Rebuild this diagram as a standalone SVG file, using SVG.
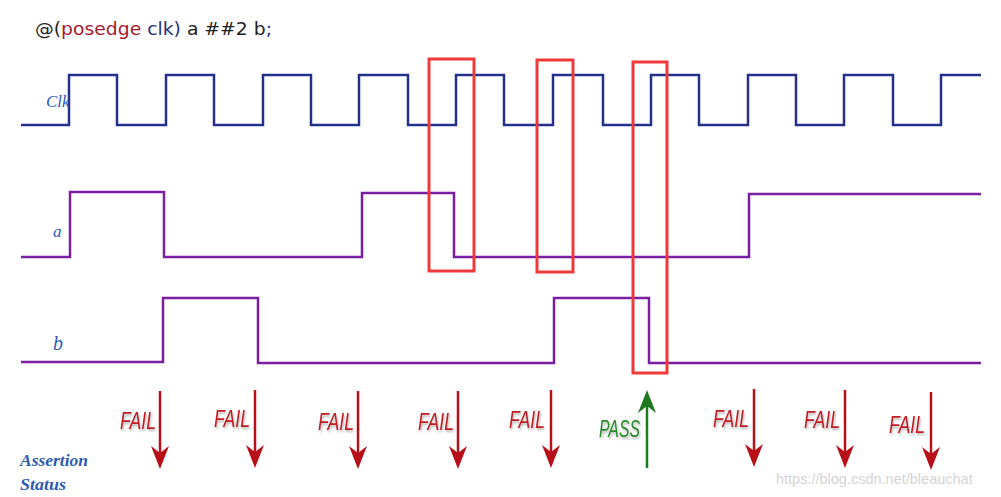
<svg xmlns="http://www.w3.org/2000/svg" width="1001" height="497" viewBox="0 0 1001 497">
<defs>
<style>
.wave{fill:none;stroke-width:2.5;stroke-linejoin:miter}
.clk{stroke:#25308a}
.sig{stroke:#7b1fa2}
.box{fill:none;stroke:#f03a3a;stroke-width:3}
.lbl{font-family:"Liberation Serif",serif;font-style:italic;fill:#2d5bb5}
.fail{font-family:"Liberation Sans",sans-serif;font-style:italic;font-size:24px;fill:#c01c24}
.pass{font-family:"Liberation Sans",sans-serif;font-style:italic;font-size:24px;fill:#2a8a2a}
.dn{stroke:#b81018;stroke-width:2.5}
.up{stroke:#1e7a1e;stroke-width:2.5}
</style>
<filter id="sh" x="-20%" y="-20%" width="150%" height="160%"><feDropShadow dx="1" dy="2" stdDeviation="1.2" flood-color="#000" flood-opacity="0.3"/></filter>
<g id="darr"><line x1="0" y1="-78" x2="0" y2="-14" class="dn"/><polygon points="0,0 -9,-23 0,-16 9,-23" fill="#b81018"/></g>
</defs>
<rect width="1001" height="497" fill="#fff"/>
<text x="35" y="35" font-family="DejaVu Sans,sans-serif" font-size="18" fill="#222" textLength="237" lengthAdjust="spacingAndGlyphs"><tspan>@(</tspan><tspan fill="#a3202c">posedge</tspan><tspan fill="#2a2f80"> clk)</tspan><tspan> a ##2 b</tspan><tspan fill="#2a2f80">;</tspan></text>
<g id="clk">
<path class="wave clk" d="M21,125H69V75H117V125H166V75H214V125H263V75H311V125H359V75H408V125H456V75H504V125H553V75H603V125H651V75H699V125H748V75H796V125H844V75H893V125H941V75H981"/>
<text class="lbl" x="46" y="107" font-size="17">Clk</text>
</g>
<g id="a">
<path class="wave sig" d="M21,257H70V192H164V257H362V193H454V257H749V194H981"/>
<text class="lbl" x="53" y="237" font-size="17">a</text>
</g>
<g id="b">
<path class="wave sig" d="M21,362H163V298H258V363H554V298H649V363H981"/>
<text class="lbl" x="53" y="350" font-size="20">b</text>
</g>
<g id="boxes">
<rect class="box" x="429" y="59" width="45" height="212"/>
<rect class="box" x="537" y="60" width="36" height="212"/>
<rect class="box" x="633" y="62" width="34" height="311"/>
</g>
<g id="status">
<text class="lbl" x="20" y="466" font-size="16" font-weight="bold" textLength="68" lengthAdjust="spacingAndGlyphs">Assertion</text>
<text class="lbl" x="20" y="490" font-size="16" font-weight="bold" textLength="46" lengthAdjust="spacingAndGlyphs">Status</text>
</g>
<g id="connectors">
<use href="#darr" x="160" y="469"/>
<use href="#darr" x="255" y="468"/>
<use href="#darr" x="358" y="469"/>
<use href="#darr" x="458" y="469"/>
<use href="#darr" x="551" y="468"/>
<use href="#darr" x="754" y="467"/>
<use href="#darr" x="845" y="468"/>
<use href="#darr" x="931" y="470"/>
<line x1="647" y1="468" x2="647" y2="405" class="up"/>
<polygon points="647,390 638,413 647,406 656,413" fill="#1e7a1e"/>
</g>
<g id="labels" filter="url(#sh)">
<text class="fail" x="120" y="429" textLength="36" lengthAdjust="spacingAndGlyphs">FAIL</text>
<text class="fail" x="214" y="427" textLength="36" lengthAdjust="spacingAndGlyphs">FAIL</text>
<text class="fail" x="318" y="430" textLength="36" lengthAdjust="spacingAndGlyphs">FAIL</text>
<text class="fail" x="418" y="430" textLength="36" lengthAdjust="spacingAndGlyphs">FAIL</text>
<text class="fail" x="509" y="428" textLength="36" lengthAdjust="spacingAndGlyphs">FAIL</text>
<text class="pass" x="599" y="437" textLength="41" lengthAdjust="spacingAndGlyphs">PASS</text>
<text class="fail" x="713" y="427" textLength="36" lengthAdjust="spacingAndGlyphs">FAIL</text>
<text class="fail" x="804" y="428" textLength="36" lengthAdjust="spacingAndGlyphs">FAIL</text>
<text class="fail" x="889" y="433" textLength="36" lengthAdjust="spacingAndGlyphs">FAIL</text>
</g>
<text x="776" y="484" font-family="Liberation Sans,sans-serif" font-size="14.5" fill="#d4d4d4">https://blog.csdn.net/bleauchat</text>
</svg>
